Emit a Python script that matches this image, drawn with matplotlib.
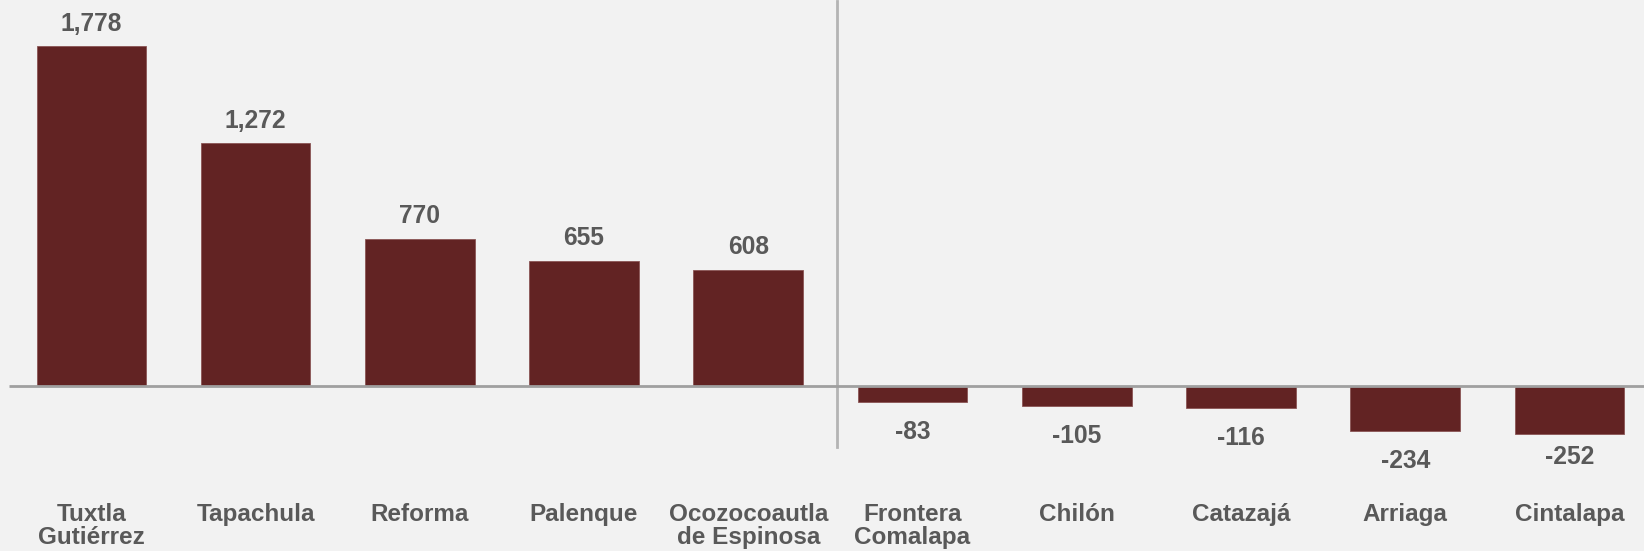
import matplotlib
matplotlib.use("Agg")
import matplotlib.pyplot as plt
import matplotlib.transforms as mtransforms

categories = ["Tuxtla\nGutiérrez", "Tapachula", "Reforma", "Palenque",
              "Ocozocoautla\nde Espinosa", "Frontera\nComalapa", "Chilón",
              "Catazajá", "Arriaga", "Cintalapa"]
values = [1778, 1272, 770, 655, 608, -83, -105, -116, -234, -252]

BG = "#f2f2f2"
BAR = "#622323"
TXT = "#595959"
FONT = ["Liberation Sans", "DejaVu Sans"]

fig = plt.figure(figsize=(16.44, 5.51), dpi=100, facecolor=BG)
ax = fig.add_axes([0, 0, 1, 1])
ax.set_facecolor(BG)

x = list(range(len(values)))
ax.bar(x, values, width=0.667, color=BAR, edgecolor="#8a5555", linewidth=0.6, zorder=2)

ax.set_xlim(-0.556, 9.454)
ax.set_ylim(-865, 2021)

# zero line
ax.plot([-0.5, 9.6], [0, 0], color="#a0a0a0", lw=2, zorder=3, solid_capstyle="butt")
# separator
ax.axvline(4.542, ymin=0.189, ymax=0.998, color="#b4b4b4", lw=2, zorder=1)

for xi, v in zip(x, values):
    if v >= 0:
        off = 16.2
    else:
        off = -16.8 if xi == len(values) - 1 else -21.6
    ax.annotate(f"{v:,}", (xi, v), xytext=(0, off), textcoords="offset points",
                ha="center", va="center", fontsize=17.7, fontweight="bold",
                color=TXT, family=FONT)

trans = mtransforms.blended_transform_factory(ax.transData, ax.transAxes)
for xi, c in zip(x, categories):
    ax.text(xi, 0.088, c, transform=trans, ha="center", va="top", fontsize=17.5,
            fontweight="bold", color=TXT, family=FONT, linespacing=1.05)

for s in ax.spines.values():
    s.set_visible(False)
ax.set_xticks([])
ax.set_yticks([])

fig.savefig("out.png", dpi=100, facecolor=BG)
